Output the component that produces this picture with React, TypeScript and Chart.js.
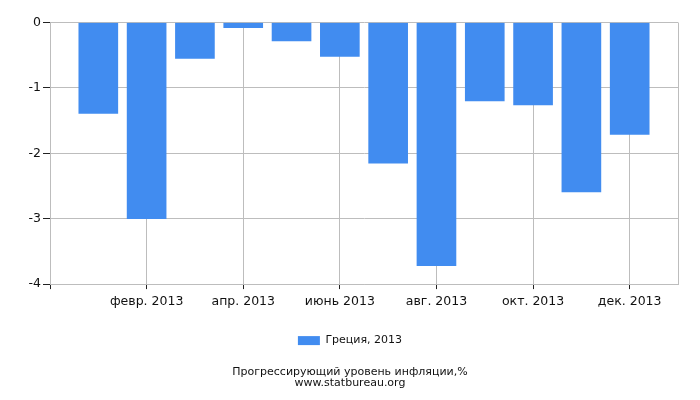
import { useEffect, useRef } from "react";
import { Chart, registerables } from "chart.js";

Chart.register(...registerables);

const months = [
  "янв. 2013",
  "февр. 2013",
  "март 2013",
  "апр. 2013",
  "май 2013",
  "июнь 2013",
  "июль 2013",
  "авг. 2013",
  "сент. 2013",
  "окт. 2013",
  "нояб. 2013",
  "дек. 2013",
];
const values = [-1.39, -3.0, -0.55, -0.08, -0.28, -0.52, -2.15, -3.72, -1.2, -1.26, -2.59, -1.71];
const seriesLabel = "Греция, 2013";
const titleLines = ["Прогрессирующий уровень инфляции,%", "www.statbureau.org"];
const xTickPositions = [-1, 1, 3, 5, 7, 9, 11, 12];

const FONT = "'DejaVu Sans', sans-serif";

export default function App() {
  const canvasRef = useRef<HTMLCanvasElement | null>(null);

  useEffect(() => {
    document.body.style.margin = "0";
    if (!canvasRef.current) return;
    const chart = new Chart(canvasRef.current, {
      type: "bar",
      data: {
        datasets: [
          {
            label: seriesLabel,
            data: values.map((v, i) => ({ x: i, y: v })),
            backgroundColor: "#418CF0",
            borderWidth: 0,
            barThickness: 39,
          },
        ],
      },
      options: {
        animation: false,
        responsive: false,
        maintainAspectRatio: false,
        layout: { padding: { top: 22.5, right: 0, left: 0, bottom: 8 } },
        scales: {
          x: {
            type: "linear",
            min: -1,
            max: 12,
            offset: false,
            afterBuildTicks: (scale: any) => {
              scale.ticks = xTickPositions.map((v) => ({ value: v }));
            },
            afterFit: (scale: any) => {
              scale.height = 41;
              scale.paddingRight = 22;
            },
            grid: {
              offset: false,
              color: "#bdbdbd",
              tickColor: (ctx: any) =>
                ctx.tick && ctx.tick.value === 12 ? "rgba(0,0,0,0)" : "#222",
              tickLength: 5,
            },
            border: { color: "#bdbdbd" },
            ticks: {
              autoSkip: false,
              maxRotation: 0,
              padding: 5,
              color: "#111",
              font: { family: FONT, size: 12.5 },
              callback: (v: any) => {
                const i = Number(v);
                return i >= 0 && i < months.length && i % 2 === 1 ? months[i] : "";
              },
            },
          },
          y: {
            min: -4,
            max: 0,
            afterFit: (scale: any) => {
              scale.width = 50;
            },
            grid: {
              color: "#bdbdbd",
              tickColor: "#222",
              tickLength: 7,
            },
            border: { color: "#bdbdbd" },
            ticks: {
              stepSize: 1,
              padding: 2,
              color: "#111",
              font: { family: FONT, size: 12.5 },
            },
          },
        },
        plugins: {
          legend: {
            position: "bottom",
            labels: {
              boxWidth: 22,
              boxHeight: 9,
              padding: 10,
              color: "#111",
              font: { family: FONT, size: 11 },
            },
          },
          title: {
            display: true,
            position: "bottom",
            text: titleLines,
            color: "#111",
            font: { family: FONT, size: 11, weight: "normal", lineHeight: 0.95 },
            padding: { top: 11, bottom: 4 },
          },
          tooltip: { enabled: false },
        },
      },
    });
    return () => {
      chart.destroy();
    };
  }, []);

  return (
    <div style={{ width: "700px", height: "400px" }}>
      <canvas ref={canvasRef} width={700} height={400} />
    </div>
  );
}
